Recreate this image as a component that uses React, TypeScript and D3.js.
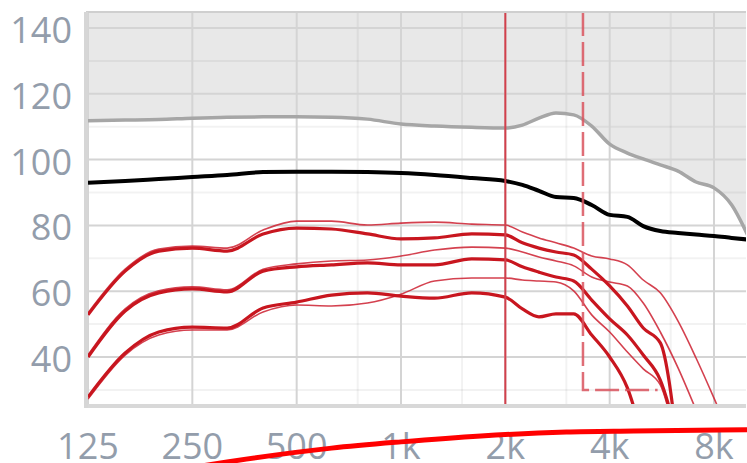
import { useRef, useEffect } from "react";
import * as d3 from "d3";

// frequencies (Hz) shared by the measured curves
const freqs = [125, 160, 200, 250, 315, 400, 500, 630, 800, 1000, 1250, 1600, 2000, 2240, 2500, 2800, 3150, 3550, 4000, 4500, 5000, 5600, 6300, 7100, 8000, 9000, 10000];

// grey curve (upper limit), shaded above
const upperLevels = [111.8, 112, 112.2, 112.6, 112.9, 113, 113, 112.9, 112.3, 110.8, 110.2, 109.8, 109.6, 110.5, 112.6, 114.2, 113.6, 110.2, 104.7, 102, 100.2, 98.4, 96.5, 93.2, 91.4, 86.2, 77.1];
// black curve
const maxLevels = [93, 93.5, 94.1, 94.7, 95.3, 96.2, 96.3, 96.3, 96.2, 95.9, 95.3, 94.4, 93.5, 92.3, 90.5, 88.6, 88.3, 86.2, 83.2, 82.6, 79.8, 78.3, 77.7, 77.2, 76.8, 76.2, 75.7];

// red curves: thick = main, thin = companion
const loudThick = [52.8, 66.1, 72.2, 73.1, 72.2, 77.4, 79.2, 78.9, 77.4, 75.9, 76.2, 77.4, 77.1, 74.7, 73.1, 71.9, 71.0, 66.7, 61.6, 55.5, 48.8, 44.3, 12];
const loudThin = [53.4, 66.7, 72.8, 73.7, 73.1, 78.6, 81.3, 81.3, 80.1, 80.7, 81, 80.4, 80.1, 78, 76.2, 74.7, 73.1, 70.7, 69.8, 68, 63.4, 59.5, 50.9, 39.7, 27.5, 14.8];
const midThick = [40, 54, 59.5, 60.7, 59.8, 66.1, 67.4, 68, 68.6, 68, 68, 69.8, 69.5, 67.4, 65.8, 64.3, 63.1, 57.3, 51.6, 46.7, 40.6, 33, 14.8];
const midThin = [40.6, 54.6, 60.1, 61.3, 60.4, 66.7, 68.3, 69.2, 69.5, 70.7, 72.5, 73.4, 73.1, 71.9, 70.4, 69.2, 67.7, 64.3, 62.8, 61.6, 56.4, 47.6, 36.7, 23.9];
const softThick = [27.8, 41.2, 47.6, 49.1, 48.8, 54.9, 56.7, 58.8, 59.5, 58.5, 57.9, 59.5, 58.2, 54.6, 52.2, 53.1, 53.1, 46.7, 40, 30.6, 14.8];
const softThin = [27.2, 40.6, 46.7, 48.2, 48.2, 53.7, 55.8, 55.5, 56.4, 59.1, 63.1, 64, 64, 63.4, 63.1, 62.8, 60.1, 52.8, 47.6, 41.5, 36.4, 31.5, 11.7];

// bright red curve running under the plot
const arcFreqs = [220, 315, 630, 1000, 1700, 3000, 4700, 8300, 10000];
const arcLevels = [5.5, 8.1, 12.3, 14.2, 16.0, 17.2, 17.5, 17.8, 17.9];

// markers
const solidMarkerFreq = 2000;
const dashMarkerFreq = 3350;
const dashMarkerLevel = 30;
const dashMarkerEnd = 5500;

const xTicks = [125, 250, 500, 1000, 2000, 4000, 8000];
const xTickLabels = ["125", "250", "500", "1k", "2k", "4k", "8k"];
const xMinor = [750, 1500, 3000, 6000];
const yTicks = [40, 60, 80, 100, 120, 140];
const yMinor = [30, 50, 70, 90, 110, 130];

export default function App() {
  const ref = useRef(null);

  useEffect(() => {
    const w = 747;
    const h = 463;
    const left = 86, right = 746, top = 12, bottom = 405;

    const x = d3.scaleLog().domain([125, 8000]).range([88, 714]);
    const y = d3.scaleLinear().domain([40, 140]).range([357, 28]);

    const svg = d3.select(ref.current);
    svg.selectAll("*").remove();
    svg.attr("width", w).attr("height", h);

    svg.append("defs").append("clipPath").attr("id", "plot")
      .append("rect").attr("x", left).attr("y", top)
      .attr("width", right - left).attr("height", bottom - top);

    svg.append("rect").attr("width", w).attr("height", h).attr("fill", "#fff");

    const plot = svg.append("g").attr("clip-path", "url(#plot)");

    // shaded region above grey curve
    const area = d3.area()
      .x((d, i) => x(freqs[i]))
      .y0(top)
      .y1((d) => y(d))
      .curve(d3.curveMonotoneX);
    plot.append("path").datum(upperLevels).attr("d", area).attr("fill", "#e8e8e8");

    // grid
    yMinor.forEach((v) => {
      plot.append("line").attr("x1", left).attr("x2", right)
        .attr("y1", y(v)).attr("y2", y(v))
        .attr("stroke", "#000").attr("stroke-opacity", 0.05).attr("stroke-width", 2);
    });
    xMinor.forEach((f) => {
      plot.append("line").attr("y1", top).attr("y2", bottom)
        .attr("x1", x(f)).attr("x2", x(f))
        .attr("stroke", "#000").attr("stroke-opacity", 0.05).attr("stroke-width", 2);
    });
    yTicks.forEach((v) => {
      plot.append("line").attr("x1", left).attr("x2", right)
        .attr("y1", y(v)).attr("y2", y(v))
        .attr("stroke", "#d4d4d4").attr("stroke-width", 2);
    });
    xTicks.forEach((f) => {
      plot.append("line").attr("y1", top).attr("y2", bottom)
        .attr("x1", x(f)).attr("x2", x(f))
        .attr("stroke", "#d4d4d4").attr("stroke-width", 2);
    });

    // border
    svg.append("line").attr("x1", left).attr("x2", right).attr("y1", top).attr("y2", top)
      .attr("stroke", "#cfcfcf").attr("stroke-width", 2);
    svg.append("line").attr("x1", left).attr("x2", right).attr("y1", bottom + 1).attr("y2", bottom + 1)
      .attr("stroke", "#d8d8d8").attr("stroke-width", 4);
    svg.append("line").attr("x1", left).attr("x2", left).attr("y1", top).attr("y2", bottom + 3)
      .attr("stroke", "#d6d6d6").attr("stroke-width", 4);

    const line = d3.line()
      .x((d, i) => x(freqs[i]))
      .y((d) => y(d))
      .curve(d3.curveMonotoneX);

    plot.append("path").datum(upperLevels).attr("d", line)
      .attr("fill", "none").attr("stroke", "#a6a6a6").attr("stroke-width", 3.5);
    plot.append("path").datum(maxLevels).attr("d", line)
      .attr("fill", "none").attr("stroke", "#000").attr("stroke-width", 4);

    [loudThin, midThin, softThin].forEach((s) => {
      plot.append("path").datum(s).attr("d", line)
        .attr("fill", "none").attr("stroke", "#cc2030").attr("stroke-width", 1.6)
        .attr("stroke-opacity", 0.85);
    });
    [loudThick, midThick, softThick].forEach((s) => {
      plot.append("path").datum(s).attr("d", line)
        .attr("fill", "none").attr("stroke", "#c8161f").attr("stroke-width", 3.2);
    });

    // markers
    plot.append("line").attr("x1", x(solidMarkerFreq)).attr("x2", x(solidMarkerFreq))
      .attr("y1", top).attr("y2", bottom)
      .attr("stroke", "#d2404c").attr("stroke-width", 2);
    plot.append("path")
      .attr("d", `M${x(dashMarkerFreq)},${top}V${y(dashMarkerLevel)}H${x(dashMarkerEnd)}`)
      .attr("fill", "none").attr("stroke", "#d9535e").attr("stroke-width", 2.5)
      .attr("stroke-dasharray", "24,6").attr("stroke-opacity", 0.85);

    // labels
    const font = "'Open Sans', 'Noto Sans', sans-serif";
    yTicks.forEach((v) => {
      svg.append("text").text(v)
        .attr("x", 72).attr("y", y(v) + 15)
        .attr("text-anchor", "end")
        .attr("font-family", font).attr("font-size", 36)
        .attr("fill", "#939dab");
    });
    xTicks.forEach((f, i) => {
      svg.append("text").text(xTickLabels[i])
        .attr("x", x(f)).attr("y", 459)
        .attr("text-anchor", "middle")
        .attr("font-family", font).attr("font-size", 36)
        .attr("fill", "#939dab");
    });

    const arc = d3.line()
      .x((d, i) => x(arcFreqs[i]))
      .y((d) => y(d))
      .curve(d3.curveMonotoneX);
    svg.append("path").datum(arcLevels).attr("d", arc)
      .attr("fill", "none").attr("stroke", "#ff0000").attr("stroke-width", 5);
  }, []);

  return <svg ref={ref} style={{ position: "absolute", left: 0, top: 0 }}></svg>;
}
